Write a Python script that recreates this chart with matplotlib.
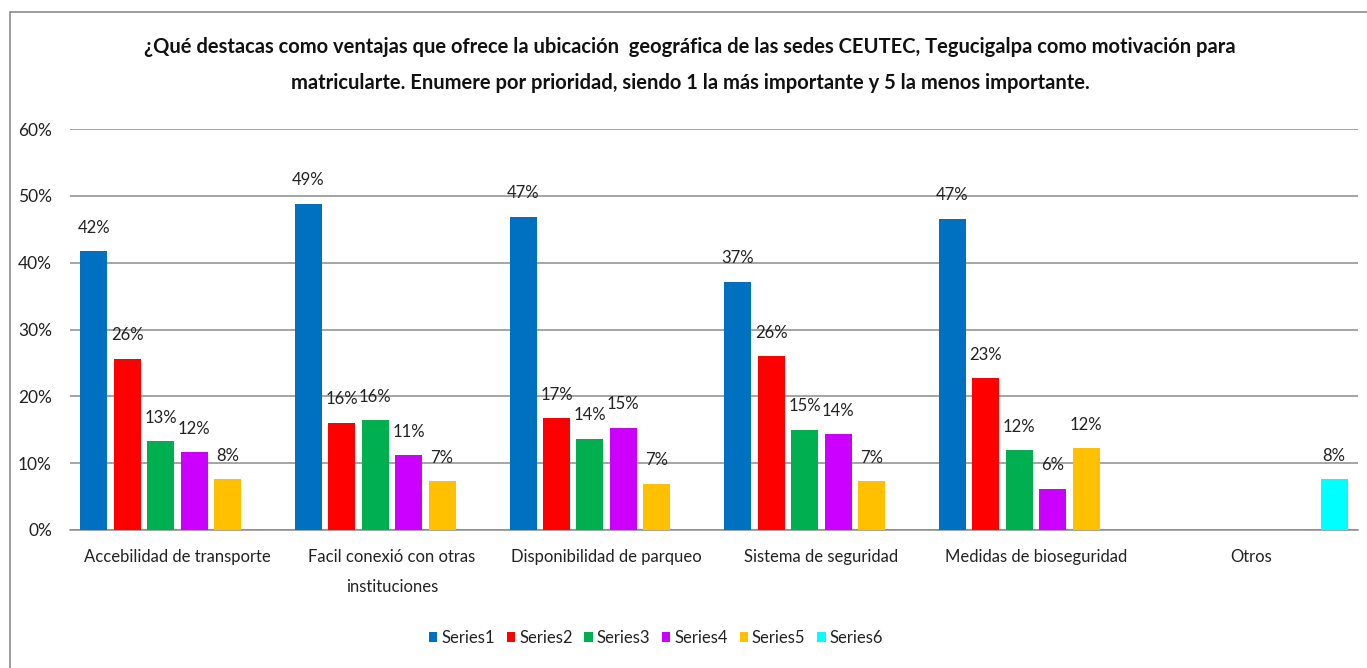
import matplotlib
matplotlib.use("Agg")
import matplotlib.pyplot as plt
import numpy as np
from matplotlib.patches import Rectangle

plt.rcParams['font.family'] = ['Lato', 'DejaVu Sans']

categories = ["Accebilidad de transporte", "Facil conexió con otras\ninstituciones",
              "Disponibilidad de parqueo", "Sistema de seguridad",
              "Medidas de bioseguridad", "Otros"]
series_names = ["Series1", "Series2", "Series3", "Series4", "Series5", "Series6"]
series1 = [41.7, 48.8, 46.9, 37.1, 46.6, None]
series2 = [25.6, 16.0, 16.7, 26.0, 22.7, None]
series3 = [13.3, 16.4, 13.6, 15.0, 11.9, None]
series4 = [11.6, 11.2, 15.3, 14.3, 6.2, None]
series5 = [7.6, 7.3, 6.9, 7.3, 12.2, None]
series6 = [None, None, None, None, None, 7.6]
colors = ["#0070C0", "#FF0000", "#00B050", "#CC00FF", "#FFC000", "#00FFFF"]
title = ("¿Qué destacas como ventajas que ofrece la ubicación  geográfica de las sedes CEUTEC, Tegucigalpa como motivación para\n"
         "matricularte. Enumere por prioridad, siendo 1 la más importante y 5 la menos importante.")

all_series = [series1, series2, series3, series4, series5, series6]

W, H = 1367, 668
fig = plt.figure(figsize=(W / 100, H / 100), dpi=100)
fig.patch.set_facecolor("white")

# outer chart border
fig.add_artist(Rectangle((10 / W, -0.05), 1.1, (H - 12) / H + 0.05, transform=fig.transFigure,
                         fill=False, edgecolor="#8c8c8c", linewidth=1.2))

ax = fig.add_axes([70 / W, 1 - 530 / H, (1358 - 70) / W, (530 - 129) / H])
x = np.arange(len(categories))
slot = 0.1556
bw = 0.126
for i, (vals, col, name) in enumerate(zip(all_series, colors, series_names)):
    xs, ys = [], []
    for j, v in enumerate(vals):
        if v is not None:
            xs.append(x[j] + (i - 2.5) * slot)
            ys.append(v / 100)
    bars = ax.bar(xs, ys, width=bw, color=col, label=name, zorder=3)
    for b, v in zip(bars, ys):
        ax.annotate(f"{v*100:.0f}%", (b.get_x() + b.get_width() / 2, v),
                    xytext=(0, 17), textcoords="offset points", ha="center", va="center",
                    fontsize=12, color="#222222", zorder=4)

ax.set_xlim(-0.5, len(categories) - 0.5)
ax.set_ylim(0, 0.6)
ax.set_yticks(np.arange(0, 0.61, 0.1))
ax.set_yticklabels([f"{int(round(t*100))}%" for t in np.arange(0, 0.61, 0.1)], fontsize=12.5, color="#222222")
ax.set_xticks(x)
ax.set_xticklabels(categories, fontsize=12, color="#222222", linespacing=2.05, va="top")
ax.tick_params(axis="both", length=0)
ax.tick_params(axis="x", pad=14)
ax.tick_params(axis="y", pad=13)
ax.grid(axis="y", color="#8c8c8c", linewidth=1.1, zorder=0)
for s in ["top", "right", "left"]:
    ax.spines[s].set_visible(False)
ax.spines["bottom"].set_color("#8c8c8c")
ax.spines["bottom"].set_linewidth(1.1)

fig.text(690 / W, 1 - 65 / H, title, ha="center", va="center", fontsize=14.5,
         fontweight="bold", color="#111111", linespacing=1.95)

leg = fig.legend(loc="center", bbox_to_anchor=(656 / W, 1 - 638 / H), ncol=6, frameon=False,
                 fontsize=12, handlelength=0.5, handleheight=0.6, handletextpad=0.25,
                 columnspacing=0.7)
for t in leg.get_texts():
    t.set_color("#222222")

fig.savefig("out.png", dpi=100)
